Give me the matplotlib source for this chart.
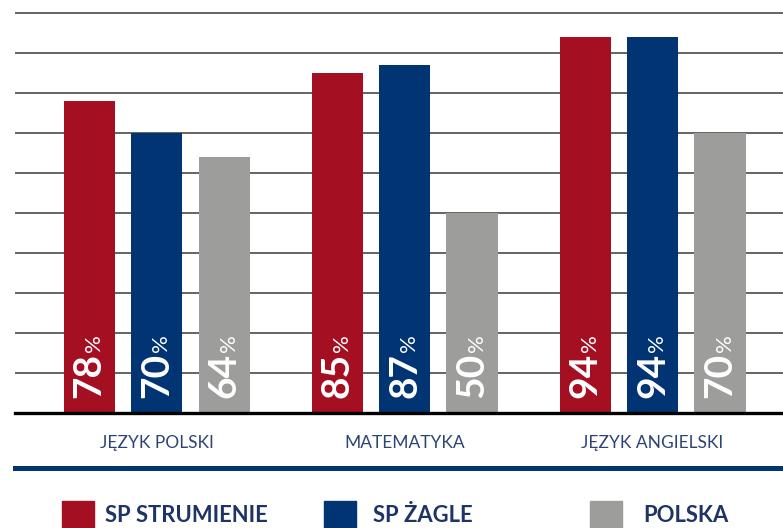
import matplotlib
matplotlib.use("Agg")
from matplotlib import pyplot as plt
from matplotlib.lines import Line2D
from matplotlib.patches import Rectangle
import numpy as np

# data
subjects = ["JĘZYK POLSKI", "MATEMATYKA", "JĘZYK ANGIELSKI"]
series_names = ["SP STRUMIENIE", "SP ŻAGLE", "POLSKA"]
strumienie = [78, 85, 94]
zagle = [70, 87, 94]
polska = [64, 50, 70]

colors = ["#A50F22", "#003473", "#9D9D9C"]
label_blue = "#2B4475"
legend_blue = "#1E3466"

plt.rcParams["font.family"] = ["Lato", "DejaVu Sans"]

W, H = 783, 528
fig = plt.figure(figsize=(W / 100, H / 100), dpi=100)
ax = fig.add_axes([15 / W, (H - 413) / H, 1 - 15 / W, 408 / H])
ax.set_ylim(0, 102)
ax.set_xlim(-0.571, 2.526)

x = np.arange(len(subjects))
offset = 0.272
width = 0.206

# gridlines
for g in range(10, 101, 10):
    ax.axhline(g, color="#4a4a4a", lw=1.2, zorder=0)
ax.axhline(0, color="black", lw=2.4, zorder=3, clip_on=False)

for i, vals in enumerate([strumienie, zagle, polska]):
    xs = x + (i - 1) * offset
    ax.bar(xs, vals, width=width, color=colors[i], zorder=2)
    for xi, v in zip(xs, vals):
        t = ax.text(xi, 3.8, str(v), rotation=90, ha="center", va="bottom",
                    color="white", fontsize=28, fontweight="bold", zorder=4)
        # small percent sign right after the number
        ax.annotate("%", xy=(1, 1), xycoords=t, xytext=(-2, 0.5),
                    textcoords="offset points", rotation=90, ha="right",
                    va="bottom", color="white", fontsize=16, zorder=4)

ax.set_xticks(x)
ax.set_xticklabels(subjects, color=label_blue, fontsize=12.5)
ax.tick_params(axis="x", length=0, pad=16)
ax.set_yticks([])
for s in ax.spines.values():
    s.set_visible(False)

# blue separator
fig.add_artist(Line2D([15 / W, 1], [(H - 468) / H] * 2, color="#003473", lw=3.6))

# legend
box_x = [62, 324, 590]
text_x = [105, 373, 643]
for bx, tx, name, c in zip(box_x, text_x, series_names, colors):
    fig.add_artist(Rectangle((bx / W, 0), 32 / W, 27 / H, color=c))
    fig.text(tx / W, (H - 516) / H, name, color=legend_blue,
             fontsize=15.8, fontweight="bold", va="center", ha="left")

fig.savefig("out.png", dpi=100)
